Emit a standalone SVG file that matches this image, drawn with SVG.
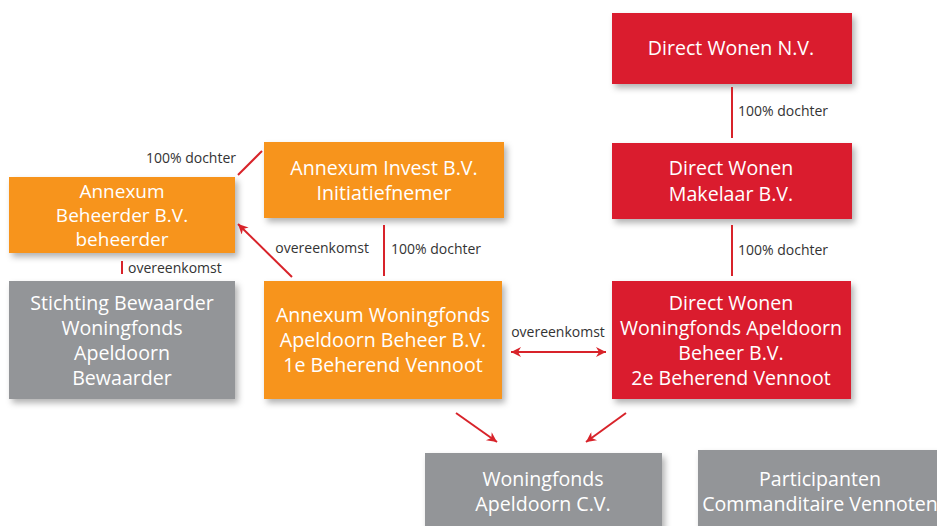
<svg xmlns="http://www.w3.org/2000/svg" width="937" height="526" viewBox="0 0 937 526">
<defs>
<filter id="sh" x="-10%" y="-10%" width="130%" height="140%">
<feDropShadow dx="3" dy="4" stdDeviation="3" flood-color="#000" flood-opacity="0.3"/>
</filter>
<marker id="ah2" viewBox="0 0 10 10" refX="10" refY="5" markerWidth="12" markerHeight="10" markerUnits="userSpaceOnUse" orient="auto-start-reverse">
<path d="M0,0 L10,5 L0,10 L3,5 z" fill="#D8232A"/>
</marker>
</defs>
<style>
.or{fill:#F7941D;filter:url(#sh)}
.rd{fill:#DA1F2F;filter:url(#sh)}
.gy{fill:#939598;filter:url(#sh)}
.t{font-family:"Open Sans","Noto Sans","Liberation Sans",sans-serif;font-size:19.6px;fill:#fff;text-anchor:middle}
.s{font-size:19px}
.l{font-family:"Open Sans","Noto Sans","Liberation Sans",sans-serif;font-size:14px;fill:#333}
.c{stroke:#D8232A;stroke-width:2;fill:none}
</style>
<rect width="937" height="526" fill="#fff"/>
<g id="direct-wonen-nv"><rect class="rd" x="612" y="13" width="240" height="71"/><text class="t" x="731" y="55">Direct Wonen N.V.</text></g>
<g id="direct-wonen-makelaar"><rect class="rd" x="612" y="143" width="240" height="76"/><text class="t" x="731" y="175">Direct Wonen</text><text class="t" x="731" y="201">Makelaar B.V.</text></g>
<g id="direct-wonen-woningfonds"><rect class="rd" x="612" y="281" width="239" height="118"/><text class="t" x="731" y="310">Direct Wonen</text><text class="t" x="731" y="335">Woningfonds Apeldoorn</text><text class="t" x="731" y="360">Beheer B.V.</text><text class="t" x="731" y="385">2e Beherend Vennoot</text></g>
<g id="annexum-invest"><rect class="or" x="264" y="142" width="240" height="76"/><text class="t" x="384" y="175">Annexum Invest B.V.</text><text class="t" x="384" y="200">Initiatiefnemer</text></g>
<g id="annexum-beheerder"><rect class="or" x="9" y="177" width="226" height="76"/><text class="t s" x="122" y="198">Annexum</text><text class="t s" x="122" y="222">Beheerder B.V.</text><text class="t s" x="122" y="246">beheerder</text></g>
<g id="stichting-bewaarder"><rect class="gy" x="9" y="281" width="226" height="118"/><text class="t" x="122" y="310">Stichting Bewaarder</text><text class="t" x="122" y="335">Woningfonds</text><text class="t" x="122" y="360">Apeldoorn</text><text class="t" x="122" y="385">Bewaarder</text></g>
<g id="annexum-woningfonds"><rect class="or" x="264" y="281" width="238" height="118"/><text class="t" x="383" y="322">Annexum Woningfonds</text><text class="t" x="383" y="347">Apeldoorn Beheer B.V.</text><text class="t" x="383" y="372">1e Beherend Vennoot</text></g>
<g id="woningfonds-cv"><rect class="gy" x="425" y="453" width="237" height="80"/><text class="t" x="543" y="486">Woningfonds</text><text class="t" x="543" y="511">Apeldoorn C.V.</text></g>
<g id="participanten"><rect class="gy" x="698" y="450" width="250" height="83"/><text class="t" x="820" y="486">Participanten</text><text class="t" x="820" y="511">Commanditaire Vennoten</text></g>
<g id="connectors">
<line class="c" x1="732" y1="87" x2="732" y2="138"/>
<text class="l" x="738" y="116">100% dochter</text>
<line class="c" x1="732" y1="225" x2="732" y2="276"/>
<text class="l" x="738" y="255">100% dochter</text>
<line class="c" x1="384" y1="225" x2="384" y2="276"/>
<text class="l" x="391" y="254">100% dochter</text>
<text class="l" x="369" y="253" text-anchor="end">overeenkomst</text>
<line class="c" x1="292" y1="277" x2="238" y2="224" marker-end="url(#ah2)"/>
<line class="c" x1="262" y1="151" x2="238" y2="175"/>
<text class="l" x="236" y="163" text-anchor="end">100% dochter</text>
<line class="c" x1="122" y1="261" x2="122" y2="274"/>
<text class="l" x="128" y="273">overeenkomst</text>
<line class="c" x1="511" y1="352" x2="606" y2="352" marker-start="url(#ah2)" marker-end="url(#ah2)"/>
<text class="l" x="558" y="337" text-anchor="middle">overeenkomst</text>
<line class="c" x1="456" y1="413" x2="497" y2="442" marker-end="url(#ah2)"/>
<line class="c" x1="626" y1="413" x2="586" y2="442" marker-end="url(#ah2)"/>
</g>
</svg>
